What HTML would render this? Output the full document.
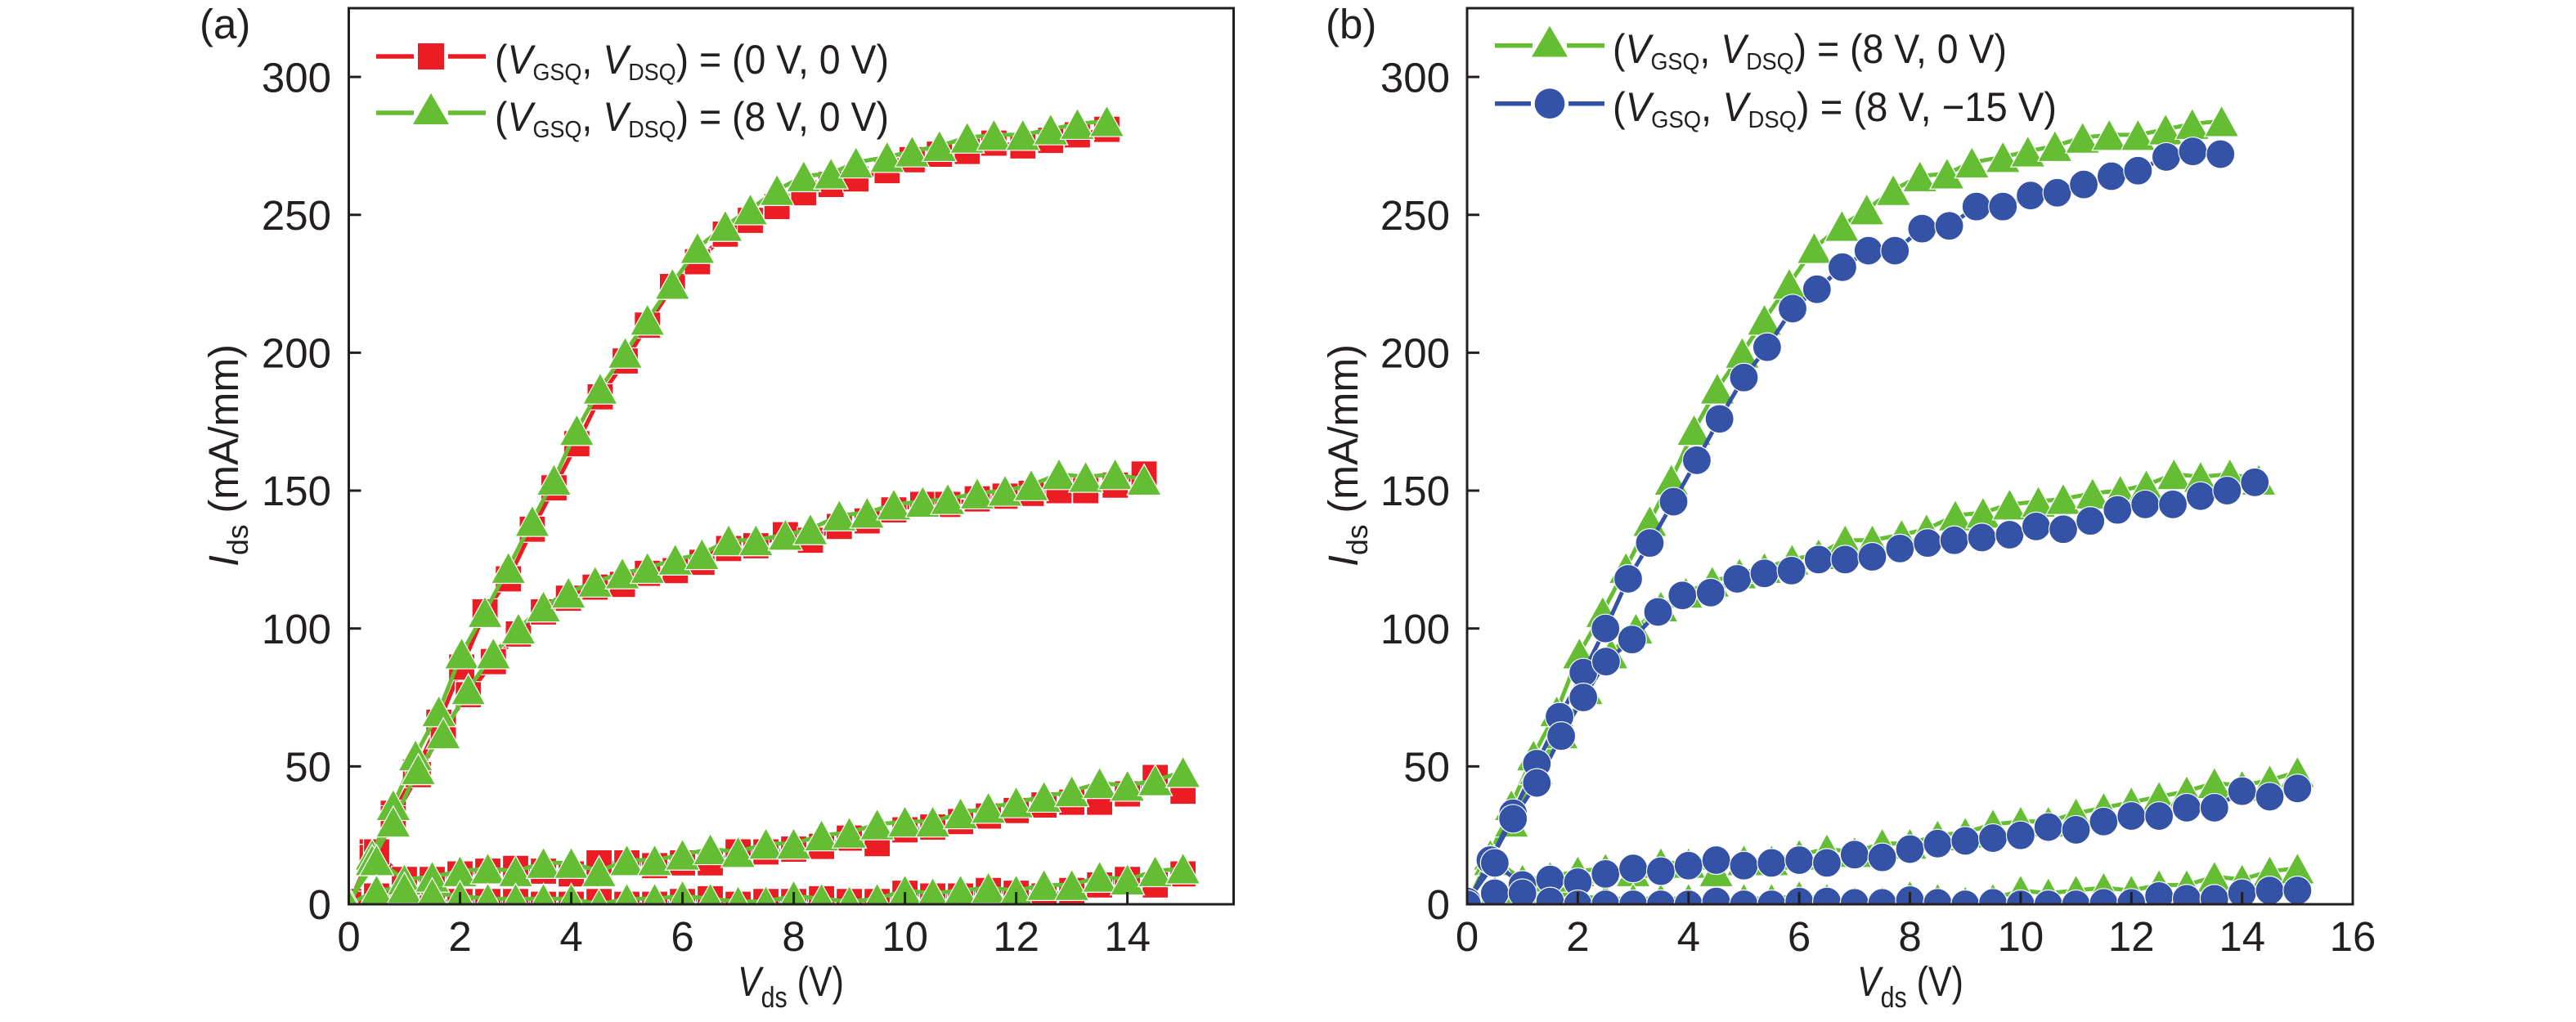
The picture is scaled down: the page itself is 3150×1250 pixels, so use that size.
<!DOCTYPE html>
<html><head><meta charset="utf-8"><style>
html,body{margin:0;padding:0;background:#fff;}
svg{display:block;}
text{font-family:"Liberation Sans",sans-serif;fill:#231f20;}
</style></head><body>
<svg width="3150" height="1250" viewBox="0 0 3150 1250" xmlns="http://www.w3.org/2000/svg">
<defs>
<clipPath id="clipA"><rect x="426.5" y="10" width="1082" height="1096"/></clipPath>
<clipPath id="clipB"><rect x="1794" y="10" width="1083" height="1096"/></clipPath>
<marker id="sqA" markerUnits="userSpaceOnUse" markerWidth="1" markerHeight="1" refX="0" refY="0" style="overflow:visible"><path transform="scale(0.014704,-0.296472)" d="M-16,-16h32v32h-32z" fill="#ec1c24" stroke="#fff" stroke-width="1.2"/></marker>
<marker id="trA" markerUnits="userSpaceOnUse" markerWidth="1" markerHeight="1" refX="0" refY="0" style="overflow:visible"><path transform="scale(0.014704,-0.296472)" d="M0,-19L21,19L-21,19Z" fill="#65bd34" stroke="#fff" stroke-width="1.2"/></marker>
<marker id="trB" markerUnits="userSpaceOnUse" markerWidth="1" markerHeight="1" refX="0" refY="0" style="overflow:visible"><path transform="scale(0.014773,-0.296472)" d="M0,-19L21,19L-21,19Z" fill="#65bd34" stroke="#fff" stroke-width="1.2"/></marker>
<marker id="ciB" markerUnits="userSpaceOnUse" markerWidth="1" markerHeight="1" refX="0" refY="0" style="overflow:visible"><circle transform="scale(0.014773,-0.296472)" cx="0" cy="0" r="17.5" fill="#3553a6" stroke="#fff" stroke-width="1.2"/></marker>
</defs>

<!-- ================= PANEL A ================= -->
<g clip-path="url(#clipA)">
<g transform="translate(426.5,1106) scale(68.01,-3.373)" fill="none" stroke-linejoin="round">
<g stroke="#ec1c24">
<polyline vector-effect="non-scaling-stroke" stroke-width="5" points="0,0 0.42,19 0.8,33 1.2,48 1.62,66 2.03,86 2.45,106 2.87,118 3.3,136 3.69,151 4.1,167 4.52,184 4.97,197 5.37,210 5.82,224 6.27,233 6.77,243 7.22,248 7.7,253 8.18,258 8.67,261 9.12,263 9.68,266 10.13,270 10.62,272 11.12,273 11.6,276 12.12,275 12.62,277 13.1,279 13.63,281"/>
<polyline vector-effect="non-scaling-stroke" stroke-width="5" points="0,0 0.42,17 0.8,31 1.25,47 1.7,64 2.15,76 2.6,88 3.05,98 3.5,106 3.95,111 4.43,115 4.92,116 5.37,120 5.87,121 6.35,124 6.83,129 7.32,130 7.85,134 8.3,132 8.82,137 9.32,139 9.8,143 10.32,145 10.77,145 11.3,147 11.8,148 12.27,149 12.77,150 13.25,150 13.78,152 14.3,156"/>
<polyline vector-effect="non-scaling-stroke" stroke-width="5" points="0,1 0.5,19 1,9 1.5,9 2,11 2.5,12 3,13 3.5,12 4,11 4.5,15 5,15 5.5,14 6,15 6.5,15 7,19 7.5,19 8,20 8.5,21 9,24 9.5,22 10,27 10.5,28 11,30 11.5,32 12,34 12.5,36 13,37 13.5,37 14,40 14.5,46 15,41"/>
<polyline vector-effect="non-scaling-stroke" stroke-width="5" points="0,0 0.5,3 1,2 1.5,1 2,1 2.5,1 3,1 3.5,0 4,0 4.5,1 5,0 5.5,0 6,1 6.5,2 7,0 7.5,1 8,1 8.5,2 9,1 9.5,1 10,4 10.5,3 11,3 11.5,5 12,4 12.5,3 13,5 13.5,7 14,9 14.5,7 15,11"/>
</g>
<g stroke="none" marker-start="url(#sqA)" marker-mid="url(#sqA)" marker-end="url(#sqA)">
<polyline points="0,0 0.42,19 0.8,33 1.2,48 1.62,66 2.03,86 2.45,106 2.87,118 3.3,136 3.69,151 4.1,167 4.52,184 4.97,197 5.37,210 5.82,224 6.27,233 6.77,243 7.22,248 7.7,253 8.18,258 8.67,261 9.12,263 9.68,266 10.13,270 10.62,272 11.12,273 11.6,276 12.12,275 12.62,277 13.1,279 13.63,281"/>
<polyline points="0,0 0.42,17 0.8,31 1.25,47 1.7,64 2.15,76 2.6,88 3.05,98 3.5,106 3.95,111 4.43,115 4.92,116 5.37,120 5.87,121 6.35,124 6.83,129 7.32,130 7.85,134 8.3,132 8.82,137 9.32,139 9.8,143 10.32,145 10.77,145 11.3,147 11.8,148 12.27,149 12.77,150 13.25,150 13.78,152 14.3,156"/>
<polyline points="0,1 0.5,19 1,9 1.5,9 2,11 2.5,12 3,13 3.5,12 4,11 4.5,15 5,15 5.5,14 6,15 6.5,15 7,19 7.5,19 8,20 8.5,21 9,24 9.5,22 10,27 10.5,28 11,30 11.5,32 12,34 12.5,36 13,37 13.5,37 14,40 14.5,46 15,41"/>
<polyline points="0,0 0.5,3 1,2 1.5,1 2,1 2.5,1 3,1 3.5,0 4,0 4.5,1 5,0 5.5,0 6,1 6.5,2 7,0 7.5,1 8,1 8.5,2 9,1 9.5,1 10,4 10.5,3 11,3 11.5,5 12,4 12.5,3 13,5 13.5,7 14,9 14.5,7 15,11"/>
</g>
<g stroke="#65bd34">
<polyline vector-effect="non-scaling-stroke" stroke-width="5" points="0,0 0.42,18 0.8,36 1.2,54 1.62,70 2.03,91 2.45,106 2.87,122 3.3,139 3.69,154 4.1,172 4.52,187 4.97,200 5.37,212 5.82,225 6.27,238 6.77,246 7.22,252 7.7,259 8.18,264 8.67,265 9.12,269 9.68,271 10.13,273 10.62,275 11.12,278 11.6,279 12.12,279 12.62,281 13.1,283 13.63,284"/>
<polyline vector-effect="non-scaling-stroke" stroke-width="5" points="0,0 0.42,16 0.8,30 1.25,49 1.7,62 2.15,78 2.6,91 3.05,100 3.5,108 3.95,113 4.43,117 4.92,120 5.37,122 5.87,125 6.35,127 6.83,132 7.32,132 7.85,134 8.3,136 8.82,141 9.32,142 9.8,145 10.32,146 10.77,147 11.3,149 11.8,150 12.27,152 12.77,156 13.25,155 13.78,156 14.3,154"/>
<polyline vector-effect="non-scaling-stroke" stroke-width="5" points="0,1 0.5,16 1,9 1.5,10 2,12 2.5,13 3,12 3.5,15 4,15 4.5,12 5,16 5.5,16 6,18 6.5,20 7,19 7.5,22 8,22 8.5,25 9,26 9.5,29 10,30 10.5,30 11,33 11.5,35 12,37 12.5,39 13,41 13.5,44 14,43 14.5,45 15,48"/>
<polyline vector-effect="non-scaling-stroke" stroke-width="5" points="0,0 0.5,5 1,6 1.5,4 2,3 2.5,2 3,2 3.5,2 4,2 4.5,0 5,2 5.5,2 6,3 6.5,2 7,1 7.5,1 8,3 8.5,2 9,1 9.5,2 10,5 10.5,4 11,5 11.5,6 12,5 12.5,7 13,7 13.5,10 14,9 14.5,12 15,13"/>
</g>
<g stroke="none" marker-start="url(#trA)" marker-mid="url(#trA)" marker-end="url(#trA)">
<polyline points="0,0 0.42,18 0.8,36 1.2,54 1.62,70 2.03,91 2.45,106 2.87,122 3.3,139 3.69,154 4.1,172 4.52,187 4.97,200 5.37,212 5.82,225 6.27,238 6.77,246 7.22,252 7.7,259 8.18,264 8.67,265 9.12,269 9.68,271 10.13,273 10.62,275 11.12,278 11.6,279 12.12,279 12.62,281 13.1,283 13.63,284"/>
<polyline points="0,0 0.42,16 0.8,30 1.25,49 1.7,62 2.15,78 2.6,91 3.05,100 3.5,108 3.95,113 4.43,117 4.92,120 5.37,122 5.87,125 6.35,127 6.83,132 7.32,132 7.85,134 8.3,136 8.82,141 9.32,142 9.8,145 10.32,146 10.77,147 11.3,149 11.8,150 12.27,152 12.77,156 13.25,155 13.78,156 14.3,154"/>
<polyline points="0,1 0.5,16 1,9 1.5,10 2,12 2.5,13 3,12 3.5,15 4,15 4.5,12 5,16 5.5,16 6,18 6.5,20 7,19 7.5,22 8,22 8.5,25 9,26 9.5,29 10,30 10.5,30 11,33 11.5,35 12,37 12.5,39 13,41 13.5,44 14,43 14.5,45 15,48"/>
<polyline points="0,0 0.5,5 1,6 1.5,4 2,3 2.5,2 3,2 3.5,2 4,2 4.5,0 5,2 5.5,2 6,3 6.5,2 7,1 7.5,1 8,3 8.5,2 9,1 9.5,2 10,5 10.5,4 11,5 11.5,6 12,5 12.5,7 13,7 13.5,10 14,9 14.5,12 15,13"/>
</g>
</g>
</g>

<rect x="426.5" y="10" width="1082" height="1096" fill="none" stroke="#231f20" stroke-width="3"/>
<g stroke="#231f20" stroke-width="3">
<line x1="426.5" y1="1106" x2="426.5" y2="1091"/>
<line x1="562.5" y1="1106" x2="562.5" y2="1091"/>
<line x1="698.5" y1="1106" x2="698.5" y2="1091"/>
<line x1="834.6" y1="1106" x2="834.6" y2="1091"/>
<line x1="970.6" y1="1106" x2="970.6" y2="1091"/>
<line x1="1106.6" y1="1106" x2="1106.6" y2="1091"/>
<line x1="1242.6" y1="1106" x2="1242.6" y2="1091"/>
<line x1="1378.6" y1="1106" x2="1378.6" y2="1091"/>
<line x1="426.5" y1="937.35" x2="441.5" y2="937.35"/>
<line x1="426.5" y1="768.7" x2="441.5" y2="768.7"/>
<line x1="426.5" y1="600.05" x2="441.5" y2="600.05"/>
<line x1="426.5" y1="431.4" x2="441.5" y2="431.4"/>
<line x1="426.5" y1="262.75" x2="441.5" y2="262.75"/>
<line x1="426.5" y1="94.1" x2="441.5" y2="94.1"/>
</g>
<g font-size="51" text-anchor="middle">
<text x="426.5" y="1163">0</text>
<text x="562.5" y="1163">2</text>
<text x="698.5" y="1163">4</text>
<text x="834.6" y="1163">6</text>
<text x="970.6" y="1163">8</text>
<text x="1106.6" y="1163">10</text>
<text x="1242.6" y="1163">12</text>
<text x="1378.6" y="1163">14</text>
</g>
<g font-size="51" text-anchor="end">
<text x="405" y="1124">0</text>
<text x="405" y="955.5">50</text>
<text x="405" y="786.9">100</text>
<text x="405" y="618.2">150</text>
<text x="405" y="449.6">200</text>
<text x="405" y="280.9">250</text>
<text x="405" y="112.3">300</text>
</g>
<text x="244" y="47" font-size="51">(a)</text>
<text x="967" y="1218" font-size="51" text-anchor="middle" textLength="130" lengthAdjust="spacingAndGlyphs"><tspan font-style="italic">V</tspan><tspan font-size="36" dy="14">ds</tspan><tspan dy="-14"> (V)</tspan></text>
<text transform="translate(291,557) rotate(-90)" font-size="51" text-anchor="middle" textLength="272" lengthAdjust="spacingAndGlyphs"><tspan font-style="italic">I</tspan><tspan font-size="36" dy="12">ds</tspan><tspan dy="-12"> (mA/mm)</tspan></text>

<line x1="460" y1="69" x2="506" y2="69" stroke="#ec1c24" stroke-width="5.5"/>
<line x1="548" y1="69" x2="594" y2="69" stroke="#ec1c24" stroke-width="5.5"/>
<rect x="511" y="53" width="32" height="32" fill="#ec1c24"/>
<line x1="460" y1="138" x2="506" y2="138" stroke="#65bd34" stroke-width="5.5"/>
<line x1="548" y1="138" x2="594" y2="138" stroke="#65bd34" stroke-width="5.5"/>
<path d="M527,114L549,152L505,152Z" fill="#65bd34"/>
<text x="605" y="90" font-size="50" textLength="482" lengthAdjust="spacingAndGlyphs" xml:space="preserve">(<tspan font-style="italic">V</tspan><tspan font-size="29" dy="8">GSQ</tspan><tspan dy="-8">, </tspan><tspan font-style="italic">V</tspan><tspan font-size="29" dy="8">DSQ</tspan><tspan dy="-8">) = (0 V, 0 V)</tspan></text>
<text x="605" y="160" font-size="50" textLength="482" lengthAdjust="spacingAndGlyphs" xml:space="preserve">(<tspan font-style="italic">V</tspan><tspan font-size="29" dy="8">GSQ</tspan><tspan dy="-8">, </tspan><tspan font-style="italic">V</tspan><tspan font-size="29" dy="8">DSQ</tspan><tspan dy="-8">) = (8 V, 0 V)</tspan></text>

<!-- ================= PANEL B ================= -->
<g clip-path="url(#clipB)">
<g transform="translate(1794,1106) scale(67.69,-3.373)" fill="none" stroke-linejoin="round">
<g stroke="#65bd34">
<polyline vector-effect="non-scaling-stroke" stroke-width="5" points="0,0 0.42,18 0.8,36 1.2,54 1.62,70 2.03,91 2.45,106 2.87,122 3.3,139 3.69,154 4.1,172 4.52,187 4.97,200 5.37,212 5.82,225 6.27,238 6.77,246 7.22,252 7.7,259 8.18,264 8.67,265 9.12,269 9.68,271 10.13,273 10.62,275 11.12,278 11.6,279 12.12,279 12.62,281 13.1,283 13.63,284"/>
<polyline vector-effect="non-scaling-stroke" stroke-width="5" points="0,0 0.42,16 0.8,30 1.25,49 1.7,62 2.15,78 2.6,91 3.05,100 3.5,108 3.95,113 4.43,117 4.92,120 5.37,122 5.87,125 6.35,127 6.83,132 7.32,132 7.85,134 8.3,136 8.82,141 9.32,142 9.8,145 10.32,146 10.77,147 11.3,149 11.8,150 12.27,152 12.77,156 13.25,155 13.78,156 14.3,154"/>
<polyline vector-effect="non-scaling-stroke" stroke-width="5" points="0,1 0.5,16 1,9 1.5,10 2,12 2.5,13 3,12 3.5,15 4,15 4.5,12 5,16 5.5,16 6,18 6.5,20 7,19 7.5,22 8,22 8.5,25 9,26 9.5,29 10,30 10.5,30 11,33 11.5,35 12,37 12.5,39 13,41 13.5,44 14,43 14.5,45 15,48"/>
<polyline vector-effect="non-scaling-stroke" stroke-width="5" points="0,0 0.5,5 1,6 1.5,4 2,3 2.5,2 3,2 3.5,2 4,2 4.5,0 5,2 5.5,2 6,3 6.5,2 7,1 7.5,1 8,3 8.5,2 9,1 9.5,2 10,5 10.5,4 11,5 11.5,6 12,5 12.5,7 13,7 13.5,10 14,9 14.5,12 15,13"/>
</g>
<g stroke="none" marker-start="url(#trB)" marker-mid="url(#trB)" marker-end="url(#trB)">
<polyline points="0,0 0.42,18 0.8,36 1.2,54 1.62,70 2.03,91 2.45,106 2.87,122 3.3,139 3.69,154 4.1,172 4.52,187 4.97,200 5.37,212 5.82,225 6.27,238 6.77,246 7.22,252 7.7,259 8.18,264 8.67,265 9.12,269 9.68,271 10.13,273 10.62,275 11.12,278 11.6,279 12.12,279 12.62,281 13.1,283 13.63,284"/>
<polyline points="0,0 0.42,16 0.8,30 1.25,49 1.7,62 2.15,78 2.6,91 3.05,100 3.5,108 3.95,113 4.43,117 4.92,120 5.37,122 5.87,125 6.35,127 6.83,132 7.32,132 7.85,134 8.3,136 8.82,141 9.32,142 9.8,145 10.32,146 10.77,147 11.3,149 11.8,150 12.27,152 12.77,156 13.25,155 13.78,156 14.3,154"/>
<polyline points="0,1 0.5,16 1,9 1.5,10 2,12 2.5,13 3,12 3.5,15 4,15 4.5,12 5,16 5.5,16 6,18 6.5,20 7,19 7.5,22 8,22 8.5,25 9,26 9.5,29 10,30 10.5,30 11,33 11.5,35 12,37 12.5,39 13,41 13.5,44 14,43 14.5,45 15,48"/>
<polyline points="0,0 0.5,5 1,6 1.5,4 2,3 2.5,2 3,2 3.5,2 4,2 4.5,0 5,2 5.5,2 6,3 6.5,2 7,1 7.5,1 8,3 8.5,2 9,1 9.5,2 10,5 10.5,4 11,5 11.5,6 12,5 12.5,7 13,7 13.5,10 14,9 14.5,12 15,13"/>
</g>
<g stroke="#3553a6">
<polyline vector-effect="non-scaling-stroke" stroke-width="5" points="0,0 0.42,16 0.83,33 1.26,51 1.67,68 2.1,84 2.5,100 2.91,118 3.3,131 3.73,146 4.15,161 4.56,176 5.0,191 5.42,202 5.88,216 6.32,223 6.78,231 7.25,237 7.73,237 8.22,245 8.71,246 9.2,253 9.68,253 10.18,257 10.66,258 11.14,261 11.64,264 12.12,266 12.63,271 13.11,273 13.61,272"/>
<polyline vector-effect="non-scaling-stroke" stroke-width="5" points="0,0 0.42,16 0.83,31 1.26,44 1.7,61 2.1,75 2.51,88 2.98,96 3.45,106 3.89,112 4.4,113 4.88,118 5.37,120 5.86,121 6.35,125 6.83,125 7.32,126 7.82,129 8.32,131 8.8,132 9.3,133 9.8,134 10.28,137 10.77,136 11.26,139 11.75,143 12.25,145 12.75,145 13.25,148 13.73,150 14.23,153"/>
<polyline vector-effect="non-scaling-stroke" stroke-width="5" points="0,1 0.5,15 1,7 1.5,9 2,8 2.5,11 3,13 3.5,12 4,14 4.5,16 5,14 5.5,15 6,16 6.5,15 7,18 7.5,17 8,20 8.5,22 9,23 9.5,24 10,25 10.5,28 11,27 11.5,30 12,32 12.5,32 13,35 13.5,35 14,41 14.5,39 15,42"/>
<polyline vector-effect="non-scaling-stroke" stroke-width="5" points="0,0 0.5,4 1,4 1.5,1 2,0 2.5,0 3,0 3.5,0 4,0 4.5,1 5,0 5.5,0 6,1 6.5,1 7,0.5 7.5,0.5 8,1.5 8.5,0.5 9,0 9.5,0.5 10,0 10.5,0 11,0 11.5,0.5 12,0.5 12.5,3 13,2 13.5,2 14,4 14.5,5 15,5"/>
</g>
<g stroke="none" marker-start="url(#ciB)" marker-mid="url(#ciB)" marker-end="url(#ciB)">
<polyline points="0,0 0.42,16 0.83,33 1.26,51 1.67,68 2.1,84 2.5,100 2.91,118 3.3,131 3.73,146 4.15,161 4.56,176 5.0,191 5.42,202 5.88,216 6.32,223 6.78,231 7.25,237 7.73,237 8.22,245 8.71,246 9.2,253 9.68,253 10.18,257 10.66,258 11.14,261 11.64,264 12.12,266 12.63,271 13.11,273 13.61,272"/>
<polyline points="0,0 0.42,16 0.83,31 1.26,44 1.7,61 2.1,75 2.51,88 2.98,96 3.45,106 3.89,112 4.4,113 4.88,118 5.37,120 5.86,121 6.35,125 6.83,125 7.32,126 7.82,129 8.32,131 8.8,132 9.3,133 9.8,134 10.28,137 10.77,136 11.26,139 11.75,143 12.25,145 12.75,145 13.25,148 13.73,150 14.23,153"/>
<polyline points="0,1 0.5,15 1,7 1.5,9 2,8 2.5,11 3,13 3.5,12 4,14 4.5,16 5,14 5.5,15 6,16 6.5,15 7,18 7.5,17 8,20 8.5,22 9,23 9.5,24 10,25 10.5,28 11,27 11.5,30 12,32 12.5,32 13,35 13.5,35 14,41 14.5,39 15,42"/>
<polyline points="0,0 0.5,4 1,4 1.5,1 2,0 2.5,0 3,0 3.5,0 4,0 4.5,1 5,0 5.5,0 6,1 6.5,1 7,0.5 7.5,0.5 8,1.5 8.5,0.5 9,0 9.5,0.5 10,0 10.5,0 11,0 11.5,0.5 12,0.5 12.5,3 13,2 13.5,2 14,4 14.5,5 15,5"/>
</g>
</g>
</g>

<rect x="1794" y="10" width="1083" height="1096" fill="none" stroke="#231f20" stroke-width="3"/>
<g stroke="#231f20" stroke-width="3">
<line x1="1794" y1="1106" x2="1794" y2="1091"/>
<line x1="1929.4" y1="1106" x2="1929.4" y2="1091"/>
<line x1="2064.8" y1="1106" x2="2064.8" y2="1091"/>
<line x1="2200.1" y1="1106" x2="2200.1" y2="1091"/>
<line x1="2335.5" y1="1106" x2="2335.5" y2="1091"/>
<line x1="2470.9" y1="1106" x2="2470.9" y2="1091"/>
<line x1="2606.3" y1="1106" x2="2606.3" y2="1091"/>
<line x1="2741.7" y1="1106" x2="2741.7" y2="1091"/>
<line x1="1794" y1="937.35" x2="1809" y2="937.35"/>
<line x1="1794" y1="768.7" x2="1809" y2="768.7"/>
<line x1="1794" y1="600.05" x2="1809" y2="600.05"/>
<line x1="1794" y1="431.4" x2="1809" y2="431.4"/>
<line x1="1794" y1="262.75" x2="1809" y2="262.75"/>
<line x1="1794" y1="94.1" x2="1809" y2="94.1"/>
</g>
<g font-size="51" text-anchor="middle">
<text x="1794" y="1163">0</text>
<text x="1929.4" y="1163">2</text>
<text x="2064.8" y="1163">4</text>
<text x="2200.1" y="1163">6</text>
<text x="2335.5" y="1163">8</text>
<text x="2470.9" y="1163">10</text>
<text x="2606.3" y="1163">12</text>
<text x="2741.7" y="1163">14</text>
<text x="2877" y="1163">16</text>
</g>
<g font-size="51" text-anchor="end">
<text x="1773" y="1124">0</text>
<text x="1773" y="955.5">50</text>
<text x="1773" y="786.9">100</text>
<text x="1773" y="618.2">150</text>
<text x="1773" y="449.6">200</text>
<text x="1773" y="280.9">250</text>
<text x="1773" y="112.3">300</text>
</g>
<text x="1621" y="47" font-size="51">(b)</text>
<text x="2336" y="1218" font-size="51" text-anchor="middle" textLength="130" lengthAdjust="spacingAndGlyphs"><tspan font-style="italic">V</tspan><tspan font-size="36" dy="14">ds</tspan><tspan dy="-14"> (V)</tspan></text>
<text transform="translate(1660,557) rotate(-90)" font-size="51" text-anchor="middle" textLength="272" lengthAdjust="spacingAndGlyphs"><tspan font-style="italic">I</tspan><tspan font-size="36" dy="12">ds</tspan><tspan dy="-12"> (mA/mm)</tspan></text>

<line x1="1828" y1="55.7" x2="1874" y2="55.7" stroke="#65bd34" stroke-width="5.5"/>
<line x1="1916" y1="55.7" x2="1962" y2="55.7" stroke="#65bd34" stroke-width="5.5"/>
<path d="M1895,31.7L1917,69.5L1873,69.5Z" fill="#65bd34"/>
<line x1="1828" y1="126.7" x2="1872" y2="126.7" stroke="#3553a6" stroke-width="5.5"/>
<line x1="1918" y1="126.7" x2="1962" y2="126.7" stroke="#3553a6" stroke-width="5.5"/>
<circle cx="1895" cy="126.7" r="18.3" fill="#3553a6"/>
<text x="1972" y="77" font-size="50" textLength="482" lengthAdjust="spacingAndGlyphs" xml:space="preserve">(<tspan font-style="italic">V</tspan><tspan font-size="29" dy="8">GSQ</tspan><tspan dy="-8">, </tspan><tspan font-style="italic">V</tspan><tspan font-size="29" dy="8">DSQ</tspan><tspan dy="-8">) = (8 V, 0 V)</tspan></text>
<text x="1972" y="148" font-size="50" textLength="543" lengthAdjust="spacingAndGlyphs" xml:space="preserve">(<tspan font-style="italic">V</tspan><tspan font-size="29" dy="8">GSQ</tspan><tspan dy="-8">, </tspan><tspan font-style="italic">V</tspan><tspan font-size="29" dy="8">DSQ</tspan><tspan dy="-8">) = (8 V, −15 V)</tspan></text>
</svg>
</body></html>
